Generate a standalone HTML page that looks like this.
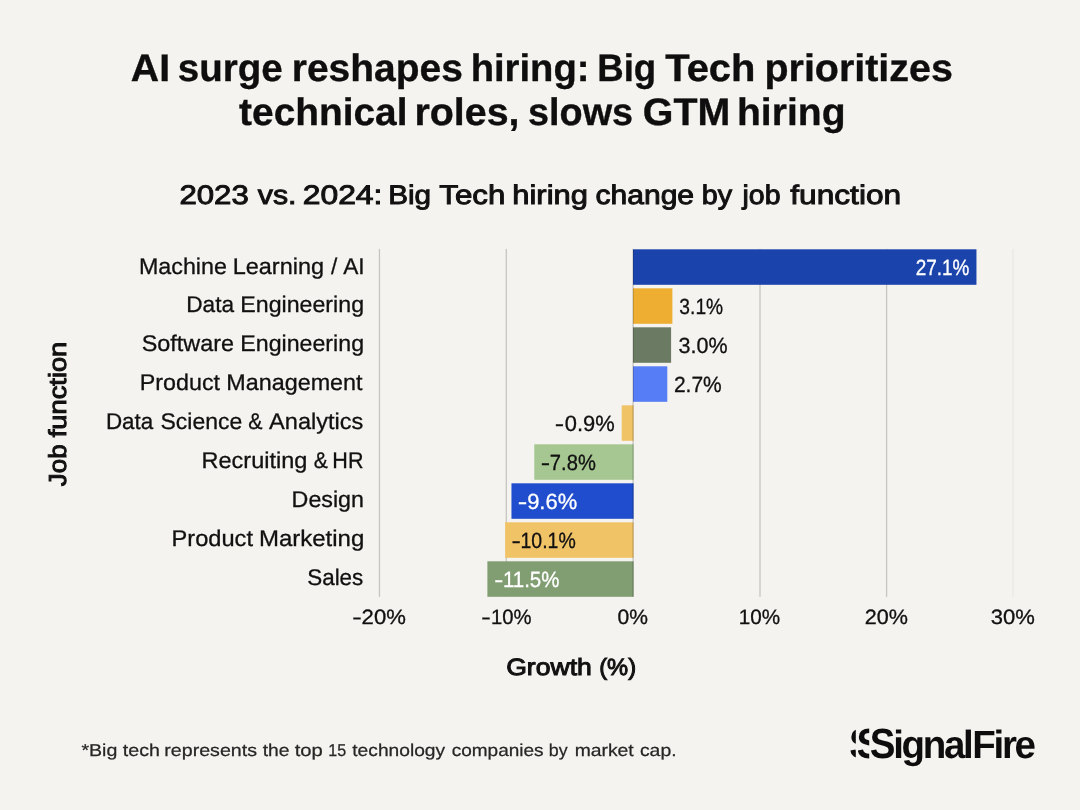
<!DOCTYPE html>
<html lang="en">
<head>
<meta charset="utf-8">
<title>AI surge reshapes hiring</title>
<style>
html,body{margin:0;padding:0;background:#f5f3ef;}
body{width:1080px;height:810px;overflow:hidden;font-family:"Liberation Sans",sans-serif;}
svg{display:block;will-change:transform;font-family:"Liberation Sans",sans-serif;text-rendering:geometricPrecision;}
</style>
</head>
<body>

<svg width="1080" height="810" viewBox="0 0 1080 810">
<rect width="1080" height="810" fill="#f5f3ef"/>
<!-- title -->
<g font-size="38.4" font-weight="700" fill="#0e0e0e" stroke="#0e0e0e" stroke-width="0.35">
<text x="130.84" y="81" textLength="39.23" lengthAdjust="spacingAndGlyphs">AI</text>
<text x="177.8" y="81" textLength="105" lengthAdjust="spacingAndGlyphs">surge</text>
<text x="291.75" y="81" textLength="171.06" lengthAdjust="spacingAndGlyphs">reshapes</text>
<text x="470.63" y="81" textLength="118.88" lengthAdjust="spacingAndGlyphs">hiring:</text>
<text x="597.22" y="81" textLength="59.01" lengthAdjust="spacingAndGlyphs">Big</text>
<text x="665.22" y="81" textLength="90.29" lengthAdjust="spacingAndGlyphs">Tech</text>
<text x="764.44" y="81" textLength="188.48" lengthAdjust="spacingAndGlyphs">prioritizes</text>
</g>
<g font-size="38.4" font-weight="700" fill="#0e0e0e" stroke="#0e0e0e" stroke-width="0.35">
<text x="239.13" y="125" textLength="168.31" lengthAdjust="spacingAndGlyphs">technical</text>
<text x="414.47" y="125" textLength="105.06" lengthAdjust="spacingAndGlyphs">roles,</text>
<text x="528.06" y="125" textLength="105.04" lengthAdjust="spacingAndGlyphs">slows</text>
<text x="642.79" y="125" textLength="87.49" lengthAdjust="spacingAndGlyphs">GTM</text>
<text x="736.99" y="125" textLength="108.52" lengthAdjust="spacingAndGlyphs">hiring</text>
</g>
<!-- subtitle -->
<g font-size="26.8" font-weight="400" fill="#111" stroke="#111" stroke-width="0.95">
<text x="179.46" y="204" textLength="69.35" lengthAdjust="spacingAndGlyphs">2023</text>
<text x="257.83" y="204" textLength="38.67" lengthAdjust="spacingAndGlyphs">vs.</text>
<text x="302.71" y="204" textLength="79.73" lengthAdjust="spacingAndGlyphs">2024:</text>
<text x="388.17" y="204" textLength="42.95" lengthAdjust="spacingAndGlyphs">Big</text>
<text x="439.39" y="204" textLength="65.95" lengthAdjust="spacingAndGlyphs">Tech</text>
<text x="512.27" y="204" textLength="75.64" lengthAdjust="spacingAndGlyphs">hiring</text>
<text x="595.51" y="204" textLength="98.58" lengthAdjust="spacingAndGlyphs">change</text>
<text x="701.66" y="204" textLength="30.39" lengthAdjust="spacingAndGlyphs">by</text>
<text x="742.5" y="204" textLength="38.05" lengthAdjust="spacingAndGlyphs">job</text>
<text x="790.21" y="204" textLength="110.99" lengthAdjust="spacingAndGlyphs">function</text>
</g>
<!-- gridlines -->
<g fill="#c6c5c2">
<rect x="378.8" y="248.9" width="1.3" height="348"/>
<rect x="505.65" y="248.9" width="1.3" height="348"/>
<rect x="759.35" y="248.9" width="1.3" height="348"/>
<rect x="885.95" y="248.9" width="1.3" height="348"/>
</g>
<rect x="1012.1" y="248.9" width="2" height="348" fill="#edece8"/>
<!-- bars -->
<rect x="633" y="249.3" width="343.46" height="35.5" fill="#1a44ab"/>
<rect x="633" y="288.3" width="39.38" height="35.5" fill="#edae31"/>
<rect x="633" y="327.3" width="38.11" height="35.5" fill="#6b7b63"/>
<rect x="633" y="366.3" width="34.31" height="35.5" fill="#567cf6"/>
<rect x="621.7" y="405.3" width="11.9" height="35.5" fill="#f1c367"/>
<rect x="534.27" y="444.3" width="99.33" height="35.5" fill="#a6c791"/>
<rect x="511.47" y="483.3" width="122.13" height="35.5" fill="#1f4dcd"/>
<rect x="505.13" y="522.3" width="128.47" height="35.5" fill="#f1c367"/>
<rect x="487.39" y="561.3" width="146.21" height="35.5" fill="#819d72"/>
<!-- zero line (drawn above bars) -->
<rect x="632.4" y="248.9" width="1.4" height="348" fill="#000" fill-opacity="0.19"/>
<!-- category labels -->
<g font-size="22.7" font-weight="400" fill="#111" stroke="#111" stroke-width="0.3">
<text x="138.93" y="274" textLength="88.03" lengthAdjust="spacingAndGlyphs">Machine</text>
<text x="232.67" y="274" textLength="91.39" lengthAdjust="spacingAndGlyphs">Learning</text>
<text x="330.96" y="274" textLength="6.29" lengthAdjust="spacingAndGlyphs">/</text>
<text x="343.24" y="274" textLength="21.42" lengthAdjust="spacingAndGlyphs">AI</text>
</g>
<g font-size="22.7" font-weight="400" fill="#111" stroke="#111" stroke-width="0.3">
<text x="186.28" y="312" textLength="47.82" lengthAdjust="spacingAndGlyphs">Data</text>
<text x="240.3" y="312" textLength="123.73" lengthAdjust="spacingAndGlyphs">Engineering</text>
</g>
<g font-size="22.7" font-weight="400" fill="#111" stroke="#111" stroke-width="0.3">
<text x="141.74" y="351" textLength="92.33" lengthAdjust="spacingAndGlyphs">Software</text>
<text x="240.3" y="351" textLength="123.73" lengthAdjust="spacingAndGlyphs">Engineering</text>
</g>
<g font-size="22.7" font-weight="400" fill="#111" stroke="#111" stroke-width="0.3">
<text x="139.73" y="390" textLength="80.3" lengthAdjust="spacingAndGlyphs">Product</text>
<text x="226.31" y="390" textLength="136.29" lengthAdjust="spacingAndGlyphs">Management</text>
</g>
<g font-size="22.7" font-weight="400" fill="#111" stroke="#111" stroke-width="0.3">
<text x="105.88" y="429" textLength="47.33" lengthAdjust="spacingAndGlyphs">Data</text>
<text x="160.53" y="429" textLength="81.74" lengthAdjust="spacingAndGlyphs">Science</text>
<text x="248.26" y="429" textLength="14.23" lengthAdjust="spacingAndGlyphs">&amp;</text>
<text x="269.12" y="429" textLength="94.25" lengthAdjust="spacingAndGlyphs">Analytics</text>
</g>
<g font-size="22.7" font-weight="400" fill="#111" stroke="#111" stroke-width="0.3">
<text x="201.56" y="468" textLength="105.84" lengthAdjust="spacingAndGlyphs">Recruiting</text>
<text x="313.68" y="468" textLength="14.09" lengthAdjust="spacingAndGlyphs">&amp;</text>
<text x="332.33" y="468" textLength="31.14" lengthAdjust="spacingAndGlyphs">HR</text>
</g>
<g font-size="22.7" font-weight="400" fill="#111" stroke="#111" stroke-width="0.3">
<text x="291.63" y="507" textLength="72.35" lengthAdjust="spacingAndGlyphs">Design</text>
</g>
<g font-size="22.7" font-weight="400" fill="#111" stroke="#111" stroke-width="0.3">
<text x="171.52" y="546" textLength="81.52" lengthAdjust="spacingAndGlyphs">Product</text>
<text x="258.91" y="546" textLength="105.42" lengthAdjust="spacingAndGlyphs">Marketing</text>
</g>
<g font-size="22.7" font-weight="400" fill="#111" stroke="#111" stroke-width="0.3">
<text x="307.23" y="585" textLength="56.1" lengthAdjust="spacingAndGlyphs">Sales</text>
</g>
<!-- value labels -->
<g font-size="22.0" font-weight="400" fill="#ffffff" stroke="#ffffff" stroke-width="0.3">
<text x="915.63" y="275" textLength="53.78" lengthAdjust="spacingAndGlyphs">27.1%</text>
</g>
<g font-size="22.0" font-weight="400" fill="#111" stroke="#111" stroke-width="0.3">
<text x="679.36" y="314" textLength="43.82" lengthAdjust="spacingAndGlyphs">3.1%</text>
</g>
<g font-size="22.0" font-weight="400" fill="#111" stroke="#111" stroke-width="0.3">
<text x="678.49" y="353" textLength="49.08" lengthAdjust="spacingAndGlyphs">3.0%</text>
</g>
<g font-size="22.0" font-weight="400" fill="#111" stroke="#111" stroke-width="0.3">
<text x="673.91" y="392" textLength="47.84" lengthAdjust="spacingAndGlyphs">2.7%</text>
</g>
<g font-size="22.0" font-weight="400" fill="#111" stroke="#111" stroke-width="0.3">
<text x="554.85" y="431" textLength="9.37" lengthAdjust="spacingAndGlyphs">-</text>
<text x="564.71" y="431" textLength="49.96" lengthAdjust="spacingAndGlyphs">0.9%</text>
</g>
<g font-size="22.0" font-weight="400" fill="#111" stroke="#111" stroke-width="0.3">
<text x="540.75" y="470" textLength="9.37" lengthAdjust="spacingAndGlyphs">-</text>
<text x="549.83" y="470" textLength="46" lengthAdjust="spacingAndGlyphs">7.8%</text>
</g>
<g font-size="22.0" font-weight="400" fill="#ffffff" stroke="#ffffff" stroke-width="0.3">
<text x="517.71" y="509" textLength="9.52" lengthAdjust="spacingAndGlyphs">-</text>
<text x="527.13" y="509" textLength="50.04" lengthAdjust="spacingAndGlyphs">9.6%</text>
</g>
<g font-size="22.0" font-weight="400" fill="#111" stroke="#111" stroke-width="0.3">
<text x="511.55" y="548" textLength="9.37" lengthAdjust="spacingAndGlyphs">-</text>
<text x="520.5" y="548" textLength="55.28" lengthAdjust="spacingAndGlyphs">10.1%</text>
</g>
<g font-size="22.0" font-weight="400" fill="#ffffff" stroke="#ffffff" stroke-width="0.3">
<text x="494.16" y="587" textLength="9.04" lengthAdjust="spacingAndGlyphs">-</text>
<text x="502.91" y="587" textLength="56.59" lengthAdjust="spacingAndGlyphs">11.5%</text>
</g>
<!-- x ticks -->
<g font-size="20.8" font-weight="400" fill="#111" stroke="#111" stroke-width="0.3">
<text x="352.18" y="624" textLength="9.45" lengthAdjust="spacingAndGlyphs">-</text>
<text x="361.63" y="624" textLength="44.24" lengthAdjust="spacingAndGlyphs">20%</text>
<text x="481.18" y="624" textLength="9.45" lengthAdjust="spacingAndGlyphs">-</text>
<text x="490.89" y="624" textLength="40.57" lengthAdjust="spacingAndGlyphs">10%</text>
<text x="617.63" y="624" textLength="30.41" lengthAdjust="spacingAndGlyphs">0%</text>
<text x="738.64" y="624" textLength="41.4" lengthAdjust="spacingAndGlyphs">10%</text>
<text x="864.71" y="624" textLength="43.19" lengthAdjust="spacingAndGlyphs">20%</text>
<text x="990.75" y="624" textLength="44.07" lengthAdjust="spacingAndGlyphs">30%</text>
</g>
<!-- axis titles -->
<g font-size="23.5" font-weight="400" fill="#111" stroke="#111" stroke-width="1.0">
<text x="506.21" y="675" textLength="85.59" lengthAdjust="spacingAndGlyphs">Growth</text>
<text x="599.18" y="675" textLength="36.86" lengthAdjust="spacingAndGlyphs">(%)</text>
</g>
<g font-size="24.6" font-weight="400" fill="#111" stroke="#111" stroke-width="1.0" transform="translate(66.0 486.3) rotate(-90)">
<text x="0.05" y="0" textLength="41.83" lengthAdjust="spacingAndGlyphs">Job</text>
<text x="49.02" y="0" textLength="95.59" lengthAdjust="spacingAndGlyphs">function</text>
</g>
<!-- footnote -->
<g font-size="17.2" font-weight="400" fill="#262626" stroke="#262626" stroke-width="0.25">
<text x="81.46" y="756" textLength="35.88" lengthAdjust="spacingAndGlyphs">*Big</text>
<text x="122.77" y="756" textLength="37.12" lengthAdjust="spacingAndGlyphs">tech</text>
<text x="164.34" y="756" textLength="92.64" lengthAdjust="spacingAndGlyphs">represents</text>
<text x="262.78" y="756" textLength="26.79" lengthAdjust="spacingAndGlyphs">the</text>
<text x="294.75" y="756" textLength="28.08" lengthAdjust="spacingAndGlyphs">top</text>
<text x="328.3" y="756" textLength="17.92" lengthAdjust="spacingAndGlyphs">15</text>
<text x="352.29" y="756" textLength="92.82" lengthAdjust="spacingAndGlyphs">technology</text>
<text x="451.72" y="756" textLength="91.9" lengthAdjust="spacingAndGlyphs">companies</text>
<text x="548.81" y="756" textLength="18.85" lengthAdjust="spacingAndGlyphs">by</text>
<text x="574.67" y="756" textLength="59.08" lengthAdjust="spacingAndGlyphs">market</text>
<text x="639.94" y="756" textLength="36.61" lengthAdjust="spacingAndGlyphs">cap.</text>
</g>
<!-- logo -->
<defs><clipPath id="c1"><rect x="850.4" y="700" width="5.4" height="80"/></clipPath><clipPath id="c2"><rect x="858" y="700" width="11.2" height="80"/></clipPath></defs>
<g font-weight="700" fill="#0d0d0d" font-size="38.5">
<g transform="translate(0 758.42) scale(1 1.0946) translate(0 -758.42)">
<g clip-path="url(#c1)"><text x="849.0" y="758.42">S</text></g>
<g clip-path="url(#c2)"><text x="856.6" y="758.42">S</text></g>
<text x="869.8" y="758.42">S</text>
</g>
<g letter-spacing="-2.3" transform="translate(0 757.8) scale(1 1.02) translate(0 -757.8)"><text x="893.18" y="757.8">ignal</text><text x="972.3" y="757.8">Fire</text></g>
</g>
</svg>
</body>
</html>
